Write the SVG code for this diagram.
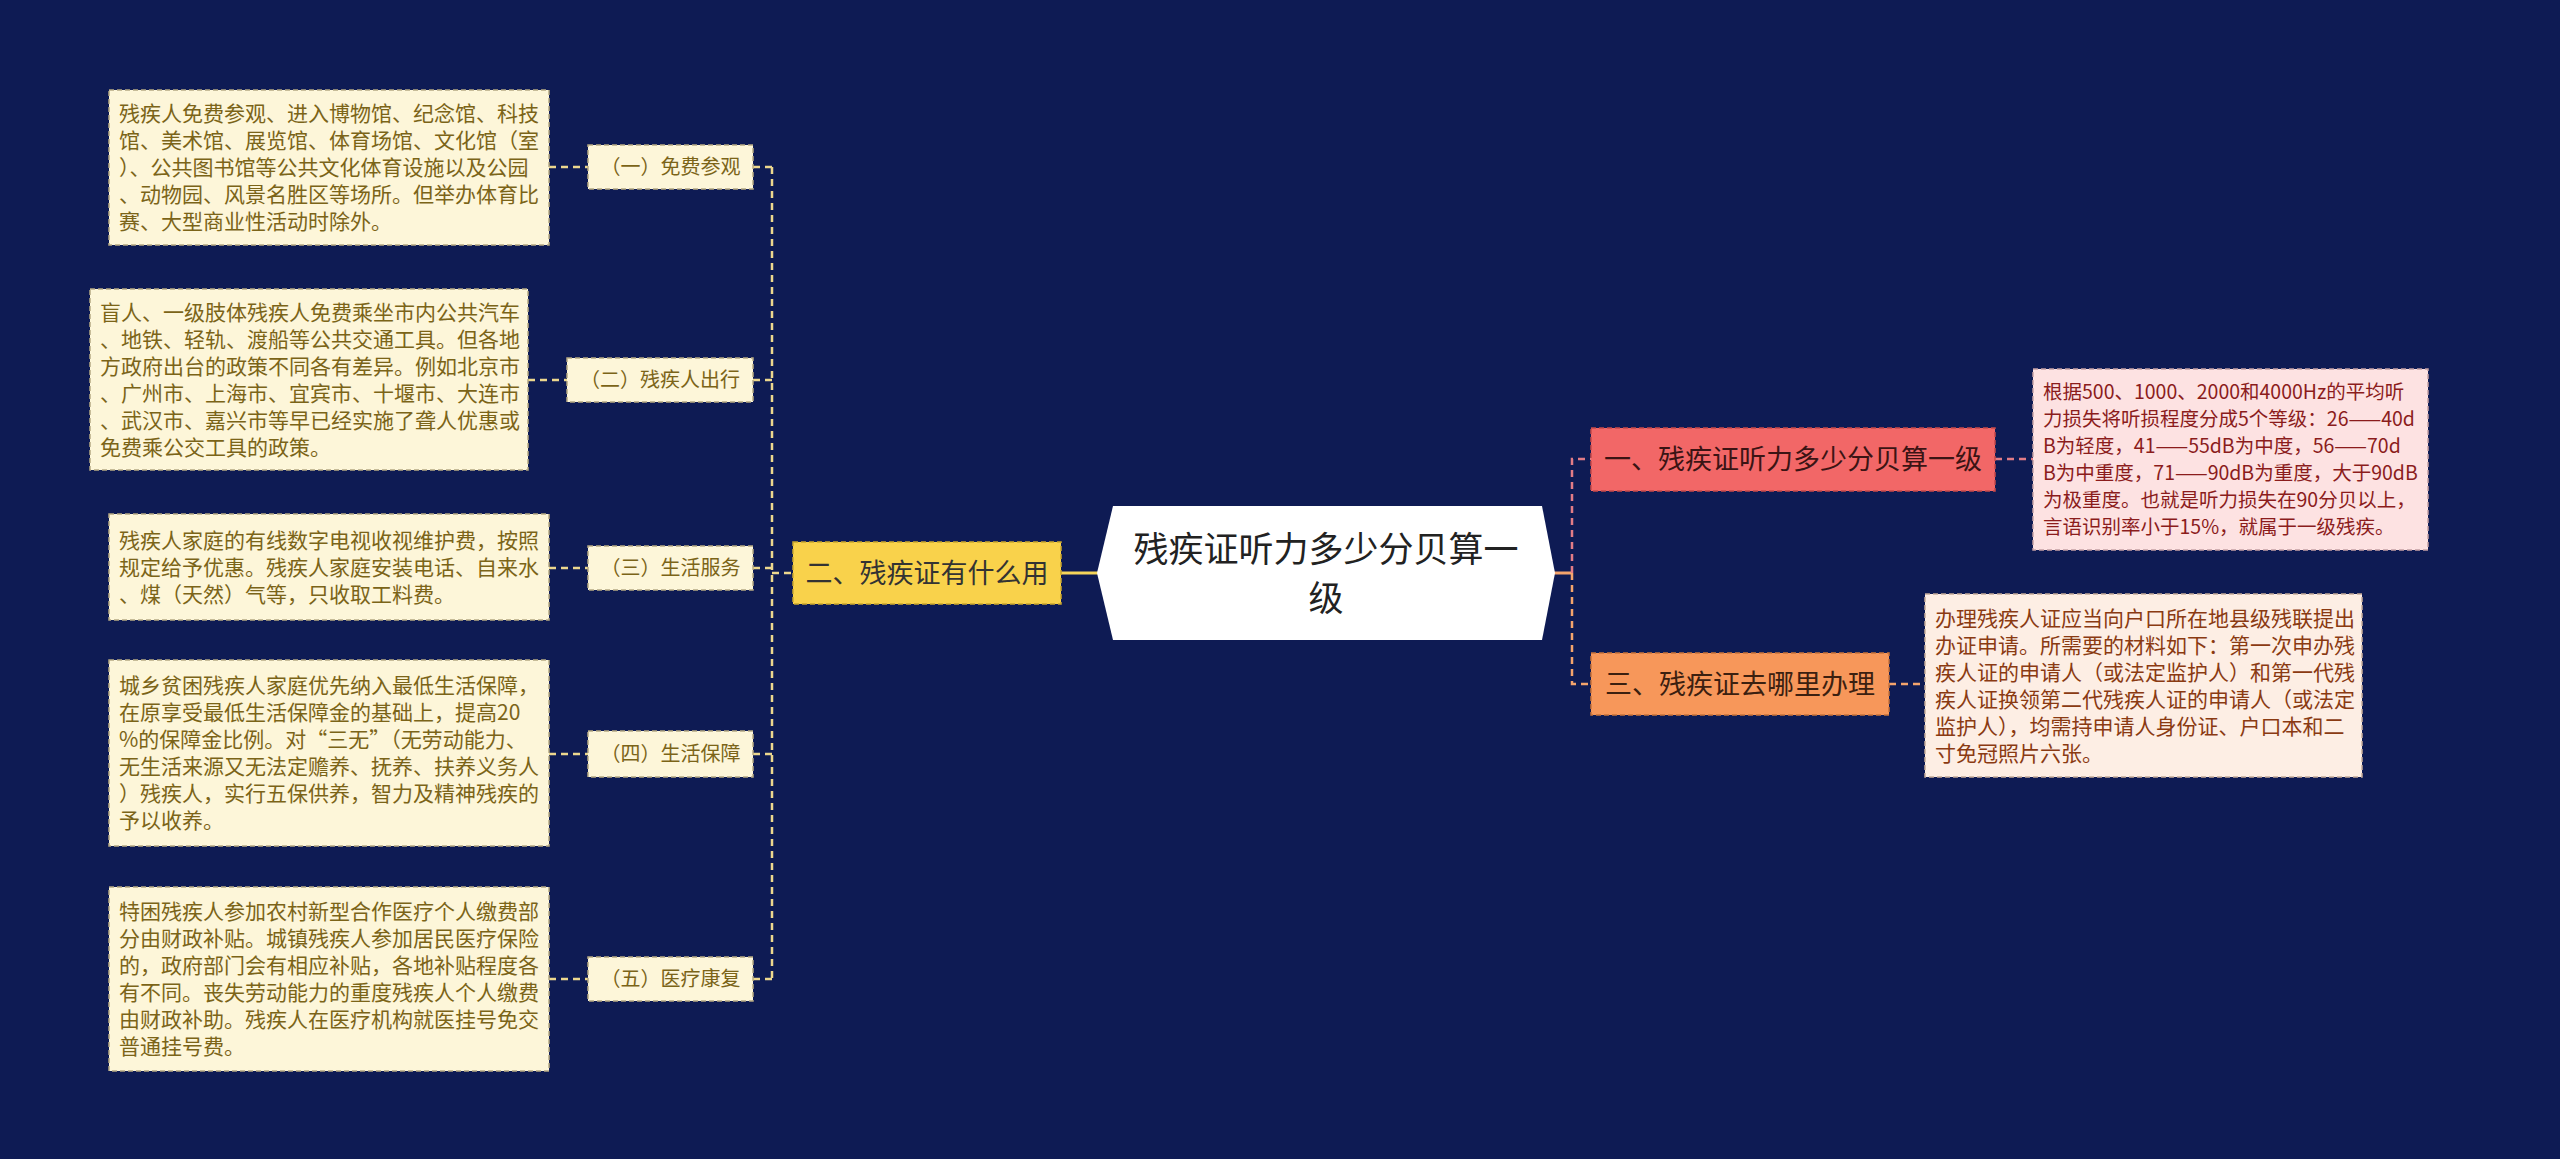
<svg xmlns="http://www.w3.org/2000/svg" width="2560" height="1159" viewBox="0 0 2560 1159">
<style>
text{font-family:"Noto Sans CJK SC","Noto Sans",sans-serif}
.leafY{fill:#fdf6d9;stroke:#b5a983;stroke-width:1.5;stroke-dasharray:5 3}
.lt{font-size:21px;fill:#7b6418}
.st{font-size:20px;fill:#7b6418;text-anchor:middle}
.mt{font-size:27px;text-anchor:middle}
.cy{fill:none;stroke:#ecd78e;stroke-width:2.5;stroke-dasharray:7 5}
.cp{fill:none;stroke:#e27c86;stroke-width:2.5;stroke-dasharray:7 5}
.co{fill:none;stroke:#f4a46c;stroke-width:2.5;stroke-dasharray:7 5}
</style>
<rect width="2560" height="1159" fill="#0e1b54"/>
<g id="connectors">
<line x1="1061" y1="573" x2="1098" y2="573" stroke="#f5d55a" stroke-width="3"/>
<line x1="772" y1="573" x2="793" y2="573" class="cy"/>
<line x1="772" y1="167" x2="772" y2="979" class="cy"/>
<line x1="753" y1="167" x2="772" y2="167" class="cy"/>
<line x1="753" y1="380" x2="772" y2="380" class="cy"/>
<line x1="753" y1="568" x2="772" y2="568" class="cy"/>
<line x1="753" y1="754" x2="772" y2="754" class="cy"/>
<line x1="753" y1="979" x2="772" y2="979" class="cy"/>
<line x1="549" y1="167" x2="588" y2="167" class="cy"/>
<line x1="528" y1="380" x2="567" y2="380" class="cy"/>
<line x1="549" y1="568" x2="588" y2="568" class="cy"/>
<line x1="549" y1="754" x2="588" y2="754" class="cy"/>
<line x1="549" y1="979" x2="588" y2="979" class="cy"/>
<line x1="1554" y1="573" x2="1572" y2="573" stroke="#f4a46c" stroke-width="3"/>
<path d="M1572 573 V459 H1591" class="cp"/>
<path d="M1572 573 V684 H1591" class="co"/>
<line x1="1995" y1="459" x2="2033" y2="459" class="cp"/>
<line x1="1889" y1="684" x2="1925" y2="684" class="co"/>
</g>
<g id="center">
<polygon points="1113,506 1542,506 1555,573 1542,640 1113,640 1097,573" fill="#ffffff"/>
<text x="1326" y="562" font-size="35" fill="#222" text-anchor="middle">残疾证听力多少分贝算一</text>
<text x="1326" y="611" font-size="35" fill="#222" text-anchor="middle">级</text>
</g>
<g id="main2">
<rect x="793" y="542" width="268" height="62" fill="#f9d24b" stroke="#c9a62e" stroke-width="1.5" stroke-dasharray="5 3"/>
<text x="927" y="583" class="mt" fill="#333">二、残疾证有什么用</text>
</g>
<g id="main1">
<rect x="1591" y="428" width="404" height="63" fill="#f26767" stroke="#c84a4a" stroke-width="1.5" stroke-dasharray="5 3"/>
<text x="1793" y="469" class="mt" fill="#3b1414">一、残疾证听力多少分贝算一级</text>
</g>
<g id="main3">
<rect x="1591" y="653" width="298" height="62" fill="#f7975a" stroke="#c8733a" stroke-width="1.5" stroke-dasharray="5 3"/>
<text x="1740" y="694" class="mt" fill="#3b2010">三、残疾证去哪里办理</text>
</g>
<g id="sub1">
<rect x="588" y="145" width="165" height="44" class="leafY"/>
<text x="670.5" y="174" class="st">（一）免费参观</text>
</g>
<g id="sub2">
<rect x="567" y="358" width="186" height="44" class="leafY"/>
<text x="660" y="387" class="st">（二）残疾人出行</text>
</g>
<g id="sub3">
<rect x="588" y="546" width="165" height="44" class="leafY"/>
<text x="670.5" y="575" class="st">（三）生活服务</text>
</g>
<g id="sub4">
<rect x="588" y="731" width="165" height="46" class="leafY"/>
<text x="670.5" y="761" class="st">（四）生活保障</text>
</g>
<g id="sub5">
<rect x="588" y="957" width="165" height="44" class="leafY"/>
<text x="670.5" y="986" class="st">（五）医疗康复</text>
</g>
<g id="leaf1">
<rect x="109" y="90" width="440" height="155" class="leafY"/>
<text class="lt"><tspan x="119" y="121">残疾人免费参观、进入博物馆、纪念馆、科技</tspan><tspan x="119" y="148">馆、美术馆、展览馆、体育场馆、文化馆（室</tspan><tspan x="119" y="175">）、公共图书馆等公共文化体育设施以及公园</tspan><tspan x="119" y="202">、动物园、风景名胜区等场所。但举办体育比</tspan><tspan x="119" y="229">赛、大型商业性活动时除外。</tspan></text>
</g>
<g id="leaf2">
<rect x="90" y="289" width="438" height="181" class="leafY"/>
<text class="lt"><tspan x="100" y="319.5">盲人、一级肢体残疾人免费乘坐市内公共汽车</tspan><tspan x="100" y="346.5">、地铁、轻轨、渡船等公共交通工具。但各地</tspan><tspan x="100" y="373.5">方政府出台的政策不同各有差异。例如北京市</tspan><tspan x="100" y="400.5">、广州市、上海市、宜宾市、十堰市、大连市</tspan><tspan x="100" y="427.5">、武汉市、嘉兴市等早已经实施了聋人优惠或</tspan><tspan x="100" y="454.5">免费乘公交工具的政策。</tspan></text>
</g>
<g id="leaf3">
<rect x="109" y="514" width="440" height="106" class="leafY"/>
<text class="lt"><tspan x="119" y="547.5">残疾人家庭的有线数字电视收视维护费，按照</tspan><tspan x="119" y="574.5">规定给予优惠。残疾人家庭安装电话、自来水</tspan><tspan x="119" y="601.5">、煤（天然）气等，只收取工料费。</tspan></text>
</g>
<g id="leaf4">
<rect x="109" y="660" width="440" height="186" class="leafY"/>
<text class="lt"><tspan x="119" y="693">城乡贫困残疾人家庭优先纳入最低生活保障，</tspan><tspan x="119" y="720">在原享受最低生活保障金的基础上，提高20</tspan><tspan x="119" y="747">%的保障金比例。对“三无”（无劳动能力、</tspan><tspan x="119" y="774">无生活来源又无法定赡养、抚养、扶养义务人</tspan><tspan x="119" y="801">）残疾人，实行五保供养，智力及精神残疾的</tspan><tspan x="119" y="828">予以收养。</tspan></text>
</g>
<g id="leaf5">
<rect x="109" y="887" width="440" height="184" class="leafY"/>
<text class="lt"><tspan x="119" y="919">特困残疾人参加农村新型合作医疗个人缴费部</tspan><tspan x="119" y="946">分由财政补贴。城镇残疾人参加居民医疗保险</tspan><tspan x="119" y="973">的，政府部门会有相应补贴，各地补贴程度各</tspan><tspan x="119" y="1000">有不同。丧失劳动能力的重度残疾人个人缴费</tspan><tspan x="119" y="1027">由财政补助。残疾人在医疗机构就医挂号免交</tspan><tspan x="119" y="1054">普通挂号费。</tspan></text>
</g>
<g id="rleaf1">
<rect x="2033" y="369" width="395" height="181" fill="#fde2e2" stroke="#c4a0a4" stroke-width="1.5" stroke-dasharray="5 3"/>
<text font-size="19.5" fill="#8b1c1c"><tspan x="2043" y="399">根据500、1000、2000和4000Hz的平均听</tspan><tspan x="2043" y="426">力损失将听损程度分成5个等级：26——40d</tspan><tspan x="2043" y="453">B为轻度，41——55dB为中度，56——70d</tspan><tspan x="2043" y="480">B为中重度，71——90dB为重度，大于90dB</tspan><tspan x="2043" y="507">为极重度。也就是听力损失在90分贝以上，</tspan><tspan x="2043" y="534">言语识别率小于15%，就属于一级残疾。</tspan></text>
</g>
<g id="rleaf3">
<rect x="1925" y="594" width="437" height="183" fill="#fdeee4" stroke="#c4aa98" stroke-width="1.5" stroke-dasharray="5 3"/>
<text font-size="21" fill="#8a3a12"><tspan x="1935" y="625.5">办理残疾人证应当向户口所在地县级残联提出</tspan><tspan x="1935" y="652.5">办证申请。所需要的材料如下：第一次申办残</tspan><tspan x="1935" y="679.5">疾人证的申请人（或法定监护人）和第一代残</tspan><tspan x="1935" y="706.5">疾人证换领第二代残疾人证的申请人（或法定</tspan><tspan x="1935" y="733.5">监护人），均需持申请人身份证、户口本和二</tspan><tspan x="1935" y="760.5">寸免冠照片六张。</tspan></text>
</g>
</svg>
